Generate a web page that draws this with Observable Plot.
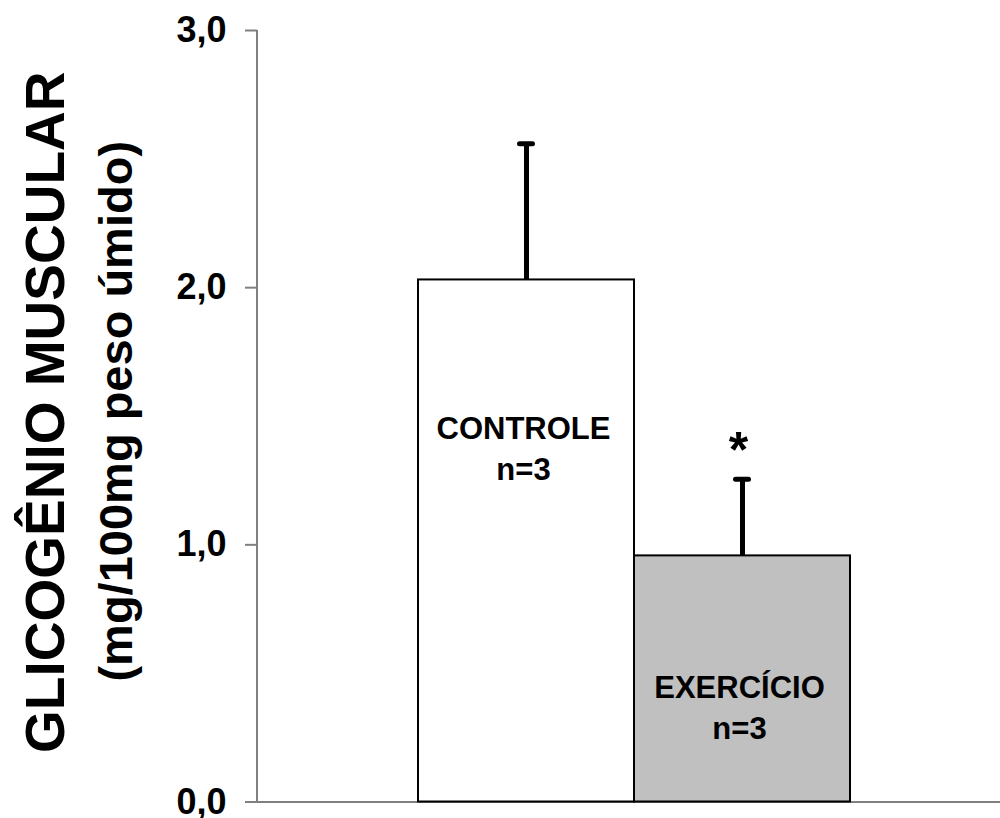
<!DOCTYPE html>
<html><head><meta charset="utf-8">
<script src="https://cdn.jsdelivr.net/npm/d3@7"></script>
<script src="https://cdn.jsdelivr.net/npm/@observablehq/plot@0.6"></script>
<style>
  body { margin: 0; background: #fff; }
  svg { display: block; }
</style>
</head><body><div id="chart"></div>
<script>
const groups = ["CONTROLE", "EXERCÍCIO"];
const means = [2.03, 0.957];
const errTops = [2.56, 1.255];
const nLabels = ["n=3", "n=3"];
const sigMarks = ["", "*"];
const yTicks = [0, 1, 2, 3];
const tickLabels = ["0,0", "1,0", "2,0", "3,0"];
const titleMain = "GLICOGÊNIO MUSCULAR";
const titleUnit = "(mg/100mg peso úmido)";

const data = groups.map((g, i) => ({group: g, mean: means[i], err: errTops[i], n: nLabels[i], sig: sigMarks[i]}));
const font = "'Liberation Sans', Arial, Helvetica, sans-serif";
const labelY = {"CONTROLE": 1.41, "EXERCÍCIO": 0.405};

function yAxisLine(index, scales, values, dims) {
  return d3.create("svg:line")
    .attr("x1", dims.marginLeft).attr("x2", dims.marginLeft)
    .attr("y1", scales.y(d3.max(yTicks))).attr("y2", scales.y(0))
    .attr("stroke", "#808080").attr("stroke-width", 2)
    .node();
}

const chart = Plot.plot({
  width: 1000,
  height: 818,
  marginTop: 30,
  marginBottom: 16.5,
  marginLeft: 257,
  marginRight: 0,
  style: {fontFamily: font, background: "white", overflow: "visible", color: "black"},
  x: {domain: groups, range: [418, 850], padding: 0, axis: null},
  y: {domain: [0, 3], axis: null},
  color: {domain: groups, range: ["#ffffff", "#c0c0c0"]},
  marks: [
    Plot.ruleY([0], {stroke: "#808080", strokeWidth: 2}),
    yAxisLine,
    Plot.axisY({
      ticks: yTicks,
      tickFormat: d => tickLabels[yTicks.indexOf(d)],
      tickSize: 12,
      tickPadding: 19,
      stroke: "#808080",
      strokeWidth: 2,
      fill: "black",
      fontSize: 36,
      fontWeight: "bold",
      label: null
    }),
    Plot.barY(data, {x: "group", y: "mean", fill: "group", stroke: "black", strokeWidth: 2}),
    Plot.ruleX(data, {x: "group", y1: "mean", y2: "err", stroke: "black", strokeWidth: 5}),
    Plot.tickY(data, {x: "group", y: "err", stroke: "black", strokeWidth: 5, strokeLinecap: "round", insetLeft: 101.5, insetRight: 101.5}),
    Plot.text(data, {x: "group", y: "err", text: "sig", fontSize: 50, fontWeight: "bold", lineAnchor: "bottom", dy: -12, dx: -4}),
    Plot.text(data, {x: "group", y: d => labelY[d.group], text: "group", fontSize: 31, fontWeight: "bold", lineAnchor: "bottom", dx: -3}),
    Plot.text(data, {x: "group", y: d => labelY[d.group], text: "n", fontSize: 31, fontWeight: "bold", lineAnchor: "bottom", dx: -3, dy: 41}),
    Plot.text([titleMain], {frameAnchor: "left", textAnchor: "middle", rotate: -90, dx: -194, dy: -4, fontSize: 55, fontWeight: "bold", lineAnchor: "bottom"}),
    Plot.text([titleUnit], {frameAnchor: "left", textAnchor: "middle", rotate: -90, dx: -126, dy: -5, fontSize: 47, fontWeight: "bold", lineAnchor: "bottom"})
  ]
});
document.getElementById("chart").append(chart);
</script>
</body></html>
